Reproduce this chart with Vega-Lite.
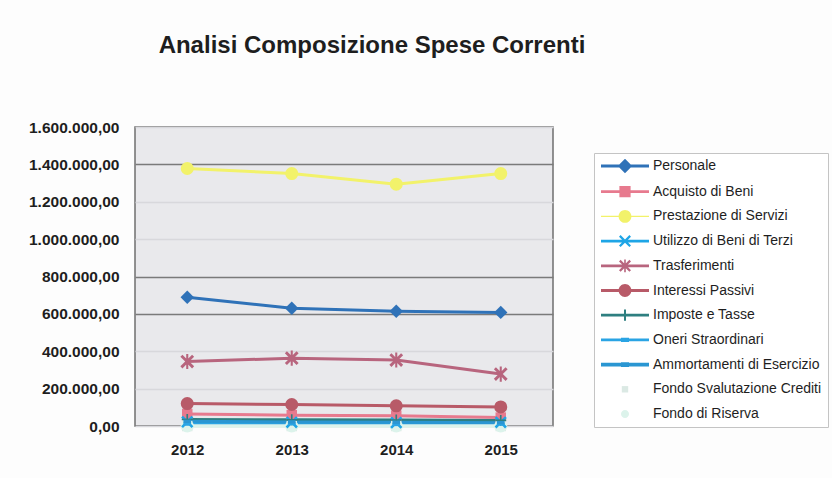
{
  "$schema": "https://vega.github.io/schema/vega-lite/v6.json",
  "autosize": "none",
  "width": 418,
  "height": 299,
  "padding": {"left": 135, "top": 127, "right": 279, "bottom": 52},
  "background": "#fdfdfd",
  "title": {
    "text": "Analisi Composizione Spese Correnti",
    "font": "Liberation Sans",
    "fontSize": 24,
    "fontWeight": "bold",
    "color": "#1e1e1e",
    "anchor": "middle",
    "dx": 28,
    "offset": 62
  },
  "data": {
    "values": [
      {"anno": "2012", "voce": "Personale", "importo": 689000},
      {"anno": "2013", "voce": "Personale", "importo": 630000},
      {"anno": "2014", "voce": "Personale", "importo": 614000},
      {"anno": "2015", "voce": "Personale", "importo": 608000},
      {"anno": "2012", "voce": "Acquisto di Beni", "importo": 64000},
      {"anno": "2013", "voce": "Acquisto di Beni", "importo": 58000},
      {"anno": "2014", "voce": "Acquisto di Beni", "importo": 55000},
      {"anno": "2015", "voce": "Acquisto di Beni", "importo": 45000},
      {"anno": "2012", "voce": "Prestazione di Servizi", "importo": 1378000},
      {"anno": "2013", "voce": "Prestazione di Servizi", "importo": 1351000},
      {"anno": "2014", "voce": "Prestazione di Servizi", "importo": 1294000},
      {"anno": "2015", "voce": "Prestazione di Servizi", "importo": 1351000},
      {"anno": "2012", "voce": "Utilizzo di Beni di Terzi", "importo": 22000},
      {"anno": "2013", "voce": "Utilizzo di Beni di Terzi", "importo": 20000},
      {"anno": "2014", "voce": "Utilizzo di Beni di Terzi", "importo": 18000},
      {"anno": "2015", "voce": "Utilizzo di Beni di Terzi", "importo": 20000},
      {"anno": "2012", "voce": "Trasferimenti", "importo": 345000},
      {"anno": "2013", "voce": "Trasferimenti", "importo": 363000},
      {"anno": "2014", "voce": "Trasferimenti", "importo": 353000},
      {"anno": "2015", "voce": "Trasferimenti", "importo": 278000},
      {"anno": "2012", "voce": "Interessi Passivi", "importo": 120000},
      {"anno": "2013", "voce": "Interessi Passivi", "importo": 115000},
      {"anno": "2014", "voce": "Interessi Passivi", "importo": 108000},
      {"anno": "2015", "voce": "Interessi Passivi", "importo": 102000},
      {"anno": "2012", "voce": "Imposte e Tasse", "importo": 35000},
      {"anno": "2013", "voce": "Imposte e Tasse", "importo": 33000},
      {"anno": "2014", "voce": "Imposte e Tasse", "importo": 32000},
      {"anno": "2015", "voce": "Imposte e Tasse", "importo": 30000},
      {"anno": "2012", "voce": "Oneri Straordinari", "importo": 10000},
      {"anno": "2013", "voce": "Oneri Straordinari", "importo": 12000},
      {"anno": "2014", "voce": "Oneri Straordinari", "importo": 8000},
      {"anno": "2015", "voce": "Oneri Straordinari", "importo": 10000},
      {"anno": "2012", "voce": "Ammortamenti di Esercizio", "importo": 25000},
      {"anno": "2013", "voce": "Ammortamenti di Esercizio", "importo": 22000},
      {"anno": "2014", "voce": "Ammortamenti di Esercizio", "importo": 20000},
      {"anno": "2015", "voce": "Ammortamenti di Esercizio", "importo": 18000},
      {"anno": "2012", "voce": "Fondo Svalutazione Crediti", "importo": 0},
      {"anno": "2013", "voce": "Fondo Svalutazione Crediti", "importo": 0},
      {"anno": "2014", "voce": "Fondo Svalutazione Crediti", "importo": 0},
      {"anno": "2015", "voce": "Fondo Svalutazione Crediti", "importo": 0},
      {"anno": "2012", "voce": "Fondo di Riserva", "importo": 0},
      {"anno": "2013", "voce": "Fondo di Riserva", "importo": 0},
      {"anno": "2014", "voce": "Fondo di Riserva", "importo": 0},
      {"anno": "2015", "voce": "Fondo di Riserva", "importo": 0}
    ]
  },
  "encoding": {
    "x": {
      "field": "anno",
      "type": "ordinal",
      "scale": {"type": "point", "padding": 0.5},
      "axis": {
        "title": null,
        "labelAngle": 0,
        "ticks": false,
        "domain": false,
        "labelPadding": 16,
        "labelFont": "Liberation Sans",
        "labelFontSize": 15,
        "labelFontWeight": "bold",
        "labelColor": "#1e1e1e"
      }
    },
    "y": {
      "field": "importo",
      "type": "quantitative",
      "scale": {"domain": [0, 1600000], "nice": false},
      "axis": {
        "title": null,
        "values": [0, 200000, 400000, 600000, 800000, 1000000, 1200000, 1400000, 1600000],
        "format": ",.2f",
        "ticks": false,
        "domain": false,
        "labelPadding": 16,
        "labelFont": "Liberation Sans",
        "labelFontSize": 15.5,
        "labelFontWeight": "bold",
        "labelColor": "#1e1e1e",
        "grid": true,
        "gridColor": {
          "condition": {"test": "datum.value === 1400000 || datum.value === 800000 || datum.value === 600000", "value": "#7a7a7a"},
          "value": "#d8d8dc"
        },
        "gridWidth": 1.5
      }
    },
    "color": {
      "field": "voce",
      "type": "nominal",
      "scale": {
        "domain": ["Personale", "Acquisto di Beni", "Prestazione di Servizi", "Utilizzo di Beni di Terzi", "Trasferimenti", "Interessi Passivi", "Imposte e Tasse", "Oneri Straordinari", "Ammortamenti di Esercizio", "Fondo Svalutazione Crediti", "Fondo di Riserva"],
        "range": ["#2f72b8", "#e77a8e", "#f2f26a", "#1ea5e6", "#b8657e", "#b85a68", "#2e7f80", "#2aa4e4", "#2a96d2", "#dbe9e4", "#dcf3eb"]
      },
      "legend": {
        "title": null,
        "orient": "none",
        "legendX": 459,
        "legendY": 26,
        "padding": 6,
        "strokeColor": "#c4c4c4",
        "fillColor": "#ffffff",
        "symbolSize": 64,
        "symbolStrokeWidth": 0,
        "symbolOpacity": 1,
        "labelOffset": 39,
        "labelFont": "Liberation Sans",
        "labelFontSize": 14,
        "labelColor": "#1e1e1e",
        "rowPadding": 10.7,
        "labelLimit": 300,
        "encode": {
          "symbols": {
            "update": {
              "shape": {
                "signal": "['M-1.5,-0.35H10.5V0.35H-1.5Z M4.5,-1.8L6.3,0L4.5,1.8L2.7,0Z', 'M-1.5,-0.35H10.5V0.35H-1.5Z M3.1,-1.4H5.9V1.4H3.1Z', 'M-1.5,-0.15H10.5V0.15H-1.5Z M2.9,0A1.6,1.6 0 0,1 6.1,0A1.6,1.6 0 0,1 2.9,0Z', 'M-1.5,-0.35H10.5V0.35H-1.5Z M3,-1.1L3.4,-1.5L4.5,-0.4L5.6,-1.5L6,-1.1L4.9,0L6,1.1L5.6,1.5L4.5,0.4L3.4,1.5L3,1.1L4.1,0Z', 'M-1.5,-0.35H10.5V0.35H-1.5Z M3,-1.1L3.4,-1.5L4.5,-0.4L5.6,-1.5L6,-1.1L4.9,0L6,1.1L5.6,1.5L4.5,0.4L3.4,1.5L3,1.1L4.1,0Z M4.3,-1.6H4.7V1.6H4.3Z', 'M-1.5,-0.35H10.5V0.35H-1.5Z M2.9,0A1.6,1.6 0 0,1 6.1,0A1.6,1.6 0 0,1 2.9,0Z', 'M-1.5,-0.35H10.5V0.35H-1.5Z M4.25,-1.4H4.75V1.4H4.25Z', 'M-1.5,-0.35H10.5V0.35H-1.5Z M3.5,-0.55H5.5V0.55H3.5Z', 'M-1.5,-0.45H10.5V0.45H-1.5Z M3.5,-0.6H5.5V0.6H3.5Z', 'M3.7,-0.8H5.3V0.8H3.7Z', 'M3.5,0A1,1 0 0,1 5.5,0A1,1 0 0,1 3.5,0Z'][indexof(['Personale', 'Acquisto di Beni', 'Prestazione di Servizi', 'Utilizzo di Beni di Terzi', 'Trasferimenti', 'Interessi Passivi', 'Imposte e Tasse', 'Oneri Straordinari', 'Ammortamenti di Esercizio', 'Fondo Svalutazione Crediti', 'Fondo di Riserva'], datum.value)]"
              }
            }
          }
        }
      }
    }
  },
  "layer": [
    {
      "mark": {"type": "line", "strokeWidth": 3, "strokeCap": "butt"}
    },
    {
      "transform": [{"filter": {"field": "voce", "oneOf": ["Personale"]}}],
      "mark": {"type": "point", "filled": true, "size": 180, "opacity": 1, "shape": "diamond"}
    },
    {
      "transform": [{"filter": {"field": "voce", "oneOf": ["Acquisto di Beni", "Fondo Svalutazione Crediti"]}}],
      "mark": {"type": "point", "filled": true, "size": 110, "opacity": 1, "shape": "square"}
    },
    {
      "transform": [{"filter": {"field": "voce", "oneOf": ["Prestazione di Servizi", "Interessi Passivi", "Fondo di Riserva"]}}],
      "mark": {"type": "point", "filled": true, "size": 170, "opacity": 1, "shape": "circle"}
    },
    {
      "transform": [{"filter": {"field": "voce", "oneOf": ["Utilizzo di Beni di Terzi"]}}],
      "mark": {"type": "point", "filled": true, "size": 150, "opacity": 1, "shape": "M-1,-0.7L-0.7,-1L0,-0.3L0.7,-1L1,-0.7L0.3,0L1,0.7L0.7,1L0,0.3L-0.7,1L-1,0.7L-0.3,0Z"}
    },
    {
      "transform": [{"filter": {"field": "voce", "oneOf": ["Trasferimenti"]}}],
      "mark": {"type": "point", "filled": true, "size": 190, "opacity": 1, "shape": "M-1,-0.7L-0.7,-1L0,-0.3L0.7,-1L1,-0.7L0.3,0L1,0.7L0.7,1L0,0.3L-0.7,1L-1,0.7L-0.3,0Z M-0.15,-1.1H0.15V1.1H-0.15Z"}
    },
    {
      "transform": [{"filter": {"field": "voce", "oneOf": ["Imposte e Tasse"]}}],
      "mark": {"type": "point", "filled": true, "size": 120, "opacity": 1, "shape": "M-0.15,-1H0.15V1H-0.15Z M-1,-0.15H1V0.15H-1Z"}
    },
    {
      "transform": [{"filter": {"field": "voce", "oneOf": ["Oneri Straordinari", "Ammortamenti di Esercizio"]}}],
      "mark": {"type": "point", "filled": true, "size": 120, "opacity": 1, "shape": "M-0.7,-0.3H0.7V0.3H-0.7Z"}
    }
  ],
  "config": {
    "locale": {
      "number": {"decimal": ",", "thousands": ".", "grouping": [3], "currency": ["", " €"]}
    },
    "view": {"fill": "#e9e9ec", "stroke": "#6f6f6f", "strokeWidth": 1.5},
    "font": "Liberation Sans"
  }
}
